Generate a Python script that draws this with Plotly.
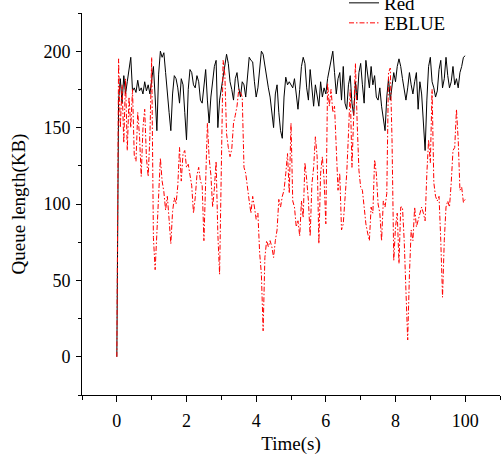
import plotly.graph_objects as go

# Sampling interval of the simulation trace (s)
dt = 0.05

# "Red" queue length (KB), t = 0.00 .. 10.00 s
red_q = [
    0, 168, 182, 166, 184, 172, 180, 190, 196, 174, 176, 173, 181, 174, 176, 172, 180, 174, 178, 172,
    181, 190, 170, 148, 185, 200, 196, 199, 186, 170, 160, 148, 172, 184, 182, 176, 166, 182, 178, 160,
    142, 175, 188, 186, 178, 176, 184, 180, 168, 166, 180, 188, 168, 153, 170, 179, 190, 194, 150, 168,
    176, 182, 190, 198, 192, 180, 175, 168, 182, 186, 176, 170, 180, 178, 170, 184, 196, 194, 193, 180,
    170, 176, 188, 200, 198, 190, 184, 176, 170, 160, 150, 172, 178, 160, 148, 143, 170, 183, 178, 180,
    178, 176, 182, 170, 162, 175, 190, 196, 192, 176, 168, 188, 176, 164, 178, 170, 164, 180, 170, 176,
    172, 182, 188, 194, 200, 186, 172, 182, 186, 168, 190, 166, 162, 178, 184, 166, 158, 180, 168, 186,
    192, 178, 166, 194, 186, 176, 190, 178, 184, 170, 168, 176, 164, 155, 148, 170, 182, 168, 176, 186,
    180, 190, 195, 190, 182, 176, 168, 176, 186, 178, 172, 180, 186, 162, 180, 172, 150, 135, 168, 190,
    196, 180, 176, 170, 174, 188, 194, 176, 182, 196, 184, 176, 180, 190, 178, 182, 176, 186, 190, 196,
    197,
]

# "EBLUE" queue length (KB), t = 0.00 .. 10.00 s
eblue_q = [
    0, 195, 150, 178, 140, 182, 135, 170, 150, 175, 132, 128, 160, 145, 118, 150, 162, 130, 118, 145,
    196, 78, 57, 80, 100, 130, 115, 108, 96, 105, 90, 74, 95, 104, 100, 112, 137, 115, 133, 135,
    124, 126, 119, 112, 94, 104, 119, 124, 115, 112, 76, 120, 153, 130, 119, 98, 110, 128, 80, 54,
    140, 194, 185, 146, 137, 131, 136, 153, 158, 164, 175, 173, 170, 124, 120, 109, 102, 94, 105, 98,
    90, 94, 68, 54, 17, 65, 76, 72, 76, 72, 65, 76, 83, 103, 98, 105, 109, 120, 133, 107,
    153, 102, 98, 85, 89, 79, 102, 91, 127, 116, 102, 79, 113, 124, 144, 131, 74, 120, 131, 116,
    87, 179, 164, 175, 160, 164, 131, 109, 120, 83, 87, 102, 120, 146, 175, 124, 153, 192, 153, 122,
    111, 109, 98, 87, 81, 76, 98, 94, 129, 120, 100, 94, 76, 102, 98, 107, 186, 189, 142, 63,
    85, 94, 61, 98, 98, 76, 43, 11, 54, 83, 76, 98, 85, 89, 94, 98, 94, 89, 120, 142,
    127, 175, 114, 105, 102, 105, 76, 39, 76, 98, 102, 98, 114, 135, 137, 162, 142, 109, 111, 101,
    103,
]

time_s = [round(i * dt, 2) for i in range(len(red_q))]

x_tickvals = [0, 2, 4, 6, 8, 10]
x_ticktext = ["0", "2", "4", "6", "8", "100"]
y_tickvals = [0, 50, 100, 150, 200]

FONT = "Liberation Serif, Times New Roman, serif"

fig = go.Figure()
fig.add_trace(go.Scatter(
    x=time_s, y=red_q, mode="lines", name="Red",
    line=dict(color="black", width=1), legend="legend",
))
fig.add_trace(go.Scatter(
    x=time_s, y=eblue_q, mode="lines", name="EBLUE",
    line=dict(color="#ff0000", width=1, dash="5px,2px,1.5px,2px"), legend="legend2",
))

axis_common = dict(
    showline=True, linecolor="black", linewidth=1,
    ticks="outside", tickcolor="black", tickwidth=1,
    showgrid=False, zeroline=False,
    tickfont=dict(family=FONT, size=18, color="black"),
)

fig.update_layout(
    width=503, height=455,
    margin=dict(l=82, r=3, t=13, b=60, autoexpand=False),
    paper_bgcolor="white", plot_bgcolor="white",
    font=dict(family=FONT, size=19, color="black"),
    xaxis=dict(
        **axis_common, range=[-1, 11], tickvals=x_tickvals, ticktext=x_ticktext,
        ticklen=6, ticklabelstandoff=3, automargin=False,
        minor=dict(ticks="outside", ticklen=4, tickcolor="black", tick0=-1, dtick=2),
        title=dict(text="Time(s)", font=dict(family=FONT, size=19), standoff=11),
    ),
    yaxis=dict(
        **axis_common, range=[-25, 225], tickvals=y_tickvals,
        ticklen=5, ticklabelstandoff=2, automargin=False,
        minor=dict(ticks="outside", ticklen=3, tickcolor="black", tick0=-25, dtick=50),
        title=dict(text="Queue length(KB)", font=dict(family=FONT, size=19), standoff=12),
    ),
    showlegend=True,
    legend=dict(
        xref="container", yref="container", x=344 / 503, y=1 - 3 / 455,
        xanchor="left", yanchor="middle", bgcolor="rgba(0,0,0,0)",
        font=dict(family=FONT, size=19), borderwidth=0,
    ),
    legend2=dict(
        xref="container", yref="container", x=344 / 503, y=1 - 23 / 455,
        xanchor="left", yanchor="middle", bgcolor="rgba(0,0,0,0)",
        font=dict(family=FONT, size=19), borderwidth=0,
    ),
)

fig.write_html(
    "out.html",
    config={"displayModeBar": False},
    post_script="document.body.style.margin='0';document.body.style.padding='0';",
)
